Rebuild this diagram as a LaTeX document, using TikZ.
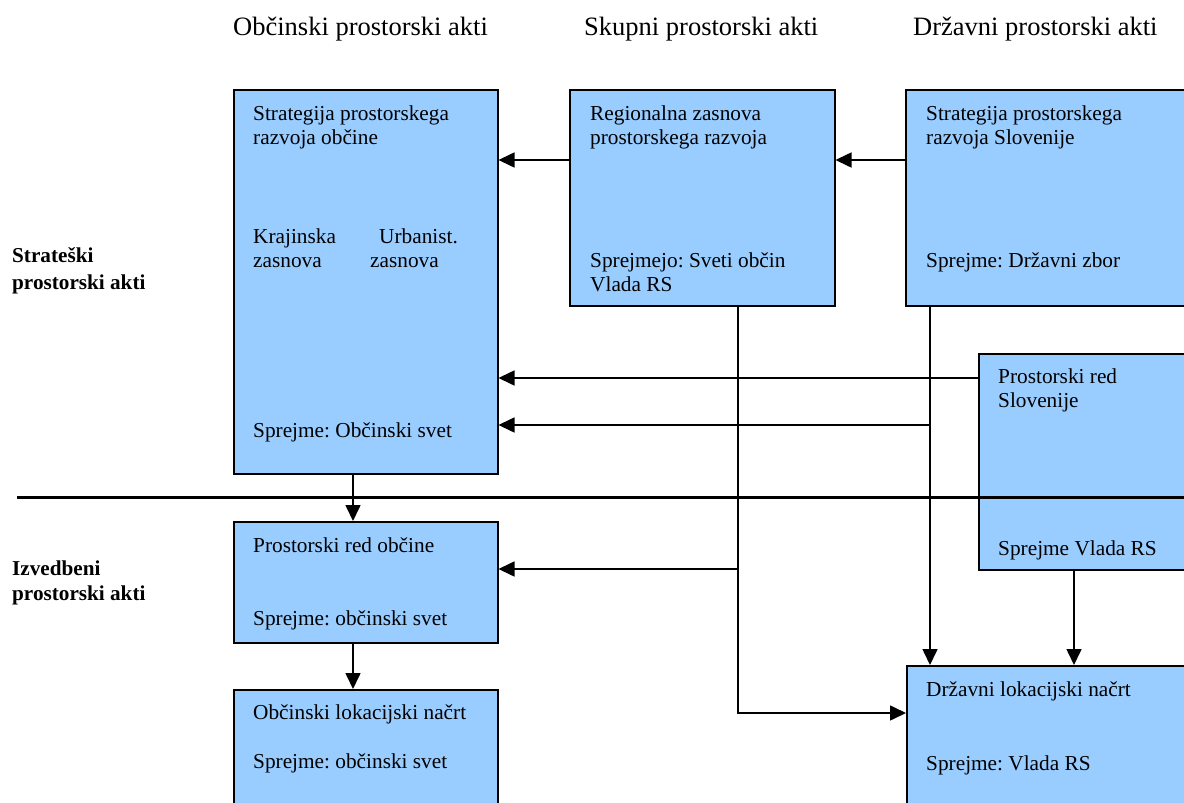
\documentclass[tikz,border=0pt]{standalone}
\usepackage{fontspec}
\setmainfont{Liberation Serif}
\usetikzlibrary{arrows.meta}
\definecolor{boxblue}{HTML}{99CCFF}
\frenchspacing
\tikzset{
  box/.style={draw=black, line width=1.5pt, fill=boxblue, rectangle, anchor=north west, inner sep=0pt},
  txt/.style={anchor=base west, inner sep=0pt, font=\frenchspacing\fontsize{21.3pt}{25pt}\selectfont},
  head/.style={anchor=base west, inner sep=0pt, font=\fontsize{26.5pt}{30pt}\selectfont},
  side/.style={anchor=base west, inner sep=0pt, font=\fontsize{21.2pt}{25pt}\selectfont\bfseries},
  conn/.style={draw=black, line width=1.6pt},
  arr/.style={conn, -{Triangle[length=16pt, width=15pt]}},
  divider/.style={draw=black, line width=3pt}
}
\begin{document}
\begin{tikzpicture}[x=1pt, y=-1pt]
\useasboundingbox (0,0) rectangle (1184,803);
\fill[white] (0,0) rectangle (1184,803);
\clip (0,0) rectangle (1184,803);

% headers
\node[head] (h1) at (233,35) {Občinski prostorski akti};
\node[head] (h2) at (584,35) {Skupni prostorski akti};
\node[head] (h3) at (913,35) {Državni prostorski akti};

% side labels
\node[side] (s1) at (12,262) {Strateški};
\node[side] (s2) at (12,289) {prostorski akti};
\node[side] (s3) at (12,575) {Izvedbeni};
\node[side] (s4) at (12,600) {prostorski akti};

% boxes
\node[box, minimum width=264pt, minimum height=384pt] (A) at (233,89) {};
\node[box, minimum width=265pt, minimum height=216pt] (B) at (569,89) {};
\node[box, minimum width=340pt, minimum height=216pt] (C) at (905,89) {};
\node[box, minimum width=280pt, minimum height=216pt] (D) at (978,353) {};
\node[box, minimum width=264pt, minimum height=121pt] (E) at (233,521) {};
\node[box, minimum width=264pt, minimum height=160pt] (F) at (233,689) {};
\node[box, minimum width=340pt, minimum height=180pt] (G) at (906,665) {};

% box texts
\node[txt] (a1) at (253,120) {Strategija prostorskega};
\node[txt] (a2) at (253,144) {razvoja občine};
\node[txt] (a3) at (253,243) {Krajinska};
\node[txt] (a4) at (379,243) {Urbanist.};
\node[txt] (a5) at (253,267) {zasnova};
\node[txt] (a6) at (370,267) {zasnova};
\node[txt] (a7) at (253,437) {Sprejme: Občinski svet};

\node[txt] (b1t) at (590,120) {Regionalna zasnova};
\node[txt] (b2t) at (590,144) {prostorskega razvoja};
\node[txt] (b3t) at (590,267) {Sprejmejo: Sveti občin};
\node[txt] (b4t) at (590,291) {Vlada RS};

\node[txt] (c1t) at (926,120) {Strategija prostorskega};
\node[txt] (c2t) at (926,144) {razvoja Slovenije};
\node[txt] (c3t) at (926,267) {Sprejme: Državni zbor};

\node[txt] (d1t) at (998,383) {Prostorski red};
\node[txt] (d2t) at (998,407) {Slovenije};
\node[txt] (d3t) at (998,555) {Sprejme Vlada RS};

\node[txt] (e1t) at (253,552) {Prostorski red občine};
\node[txt] (e2t) at (253,625) {Sprejme: občinski svet};

\node[txt] (f1t) at (253,719) {Občinski lokacijski načrt};
\node[txt] (f2t) at (253,768) {Sprejme: občinski svet};

\node[txt] (g1t) at (926,696) {Državni lokacijski načrt};
\node[txt] (g2t) at (926,770) {Sprejme: Vlada RS};

% connectors
\draw[arr] ([yshift=-71pt]B.north west) -- ([yshift=-71pt]A.north east);
\draw[arr] ([yshift=-71pt]C.north west) -- ([yshift=-71pt]B.north east);

\coordinate (d1) at ([yshift=-25pt]D.north west);
\draw[arr] (d1) -- (d1 -| A.east);

\coordinate (c1) at ([xshift=25pt]C.south west);
\draw[arr] (c1) -- (c1 |- G.north);
\coordinate (c2) at (c1 |- 0,425);
\draw[arr] (c2) -- (c2 -| A.east);

\coordinate (bb1) at ([xshift=169pt]B.south west);
\draw[arr] (bb1) |- ([yshift=-48pt]G.north west);
\coordinate (bb2) at (bb1 |- 0,569);
\draw[arr] (bb2) -- (bb2 -| E.east);

\coordinate (d2) at ([xshift=96pt]D.south west);
\draw[arr] (d2) -- (d2 |- G.north);

\draw[arr] ([xshift=120pt]A.south west) -- ([xshift=120pt]E.north west);
\draw[arr] ([xshift=120pt]E.south west) -- ([xshift=120pt]F.north west);

% divider
\coordinate (hl) at (17,497);
\coordinate (hr) at (1184,497);
\draw[divider] (hl) -- (hr);
\end{tikzpicture}
\end{document}
